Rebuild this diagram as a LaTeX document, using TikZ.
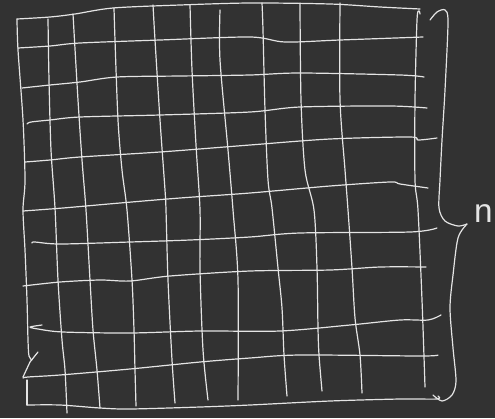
\documentclass[tikz,border=0pt]{standalone}
\usepackage{fontspec}
\setmainfont{Liberation Sans}
\usepackage{xcolor}
\usepackage{tikz}
\usetikzlibrary{positioning}
\definecolor{boardbg}{HTML}{323232}
\definecolor{chalk}{HTML}{E4E4E4}

\begin{document}
\begin{tikzpicture}[
    x=0.75pt, y=-0.75pt,
    stroke/.style={draw=chalk, line width=0.9pt, line cap=round, line join=round},
    row/.style={stroke},
    col/.style={stroke},
    brace/.style={stroke},
    label/.style={text=chalk, inner sep=0pt, font=\fontsize{25}{25}\selectfont},
]

% ============== board ==============
\fill[boardbg] (0,0) rectangle (495,418);
\useasboundingbox (0,0) rectangle (495,418);

% ============== rows ==============
\draw[row] plot[smooth, tension=0.5] coordinates {(17,19) (50,17) (75,14) (113,8) (180,5) (250,3) (330,4) (380,7) (420,9)};
\draw[row] plot[smooth, tension=0.5] coordinates {(18,48) (50,46) (80,43) (160,40) (250,37) (285,42) (340,40) (423,37)};
\draw[row] plot[smooth, tension=0.5] coordinates {(22,88) (50,85) (80,82) (117,77) (180,76) (250,75) (300,73) (400,75) (424,77)};
\draw[row] plot[smooth, tension=0.5] coordinates {(27,124) (31,122) (50,120) (80,117) (160,115) (250,112) (300,107) (390,106) (427,108)};
\draw[row] plot[smooth, tension=0.5] coordinates {(25,162) (50,160) (80,157) (160,152) (250,145) (330,139) (410,137) (418,140) (437,138)};
\draw[row] plot[smooth, tension=0.5] coordinates {(23,211) (63,208) (120,203) (180,198) (250,193) (330,186) (390,182) (400,184) (428,188)};
\draw[row] plot[smooth, tension=0.5] coordinates {(32,243) (35,242) (60,244) (130,242) (190,240) (250,237) (300,233) (410,232) (437,228)};
\draw[row] plot[smooth, tension=0.5] coordinates {(23,286) (60,282) (100,280) (130,281) (170,276) (250,271) (330,270) (380,267) (426,267)};
\draw[row] plot[smooth, tension=0.5] coordinates {(42,325) (30,327) (38,329) (63,332) (130,333) (200,331) (280,331) (350,325) (400,320) (428,320) (441,315)};
\draw[row] plot[smooth, tension=0.5] coordinates {(23,378) (28,377) (60,375) (130,369) (200,362) (250,358) (300,355) (420,356) (438,355)};
\draw[row] plot[smooth, tension=0.5] coordinates {(27,405) (60,405) (100,408) (130,409) (200,407) (250,405) (330,401) (400,399) (437,399) (438,396)};

% ============== columns ==============
\draw[col] plot[smooth, tension=0.5] coordinates {(17,19) (18,50) (23,120) (25,180) (23,210) (25,250) (27,300) (28,340) (29,356) (32,360)};
\draw[col] (38,352) -- (30,362) -- (23,377);
\draw[col] (27,380) -- (27,405);
\draw[col] plot[smooth, tension=0.5] coordinates {(48,19) (49,80) (51,150) (55,208) (58,280) (62,340) (65,370) (67,413)};
\draw[col] plot[smooth, tension=0.5] coordinates {(73,14) (78,100) (82,160) (86,210) (90,280) (93,330) (97,370) (100,408)};
\draw[col] plot[smooth, tension=0.5] coordinates {(114,8) (115,40) (118,120) (122,170) (127,210) (132,280) (134,330) (135,370) (136,406)};
\draw[col] plot[smooth, tension=0.5] coordinates {(153,5) (155,40) (160,120) (165,190) (166,210) (168,280) (172,360) (175,403)};
\draw[col] plot[smooth, tension=0.5] coordinates {(190,5) (192,70) (196,145) (200,210) (200,270) (203,350) (208,400)};
\draw[col] plot[smooth, tension=0.5] coordinates {(220,10) (220,60) (228,150) (233,210) (238,280) (238,400)};
\draw[col] plot[smooth, tension=0.5] coordinates {(262,3) (263,30) (265,110) (268,180) (272,208) (278,268) (282,308) (284,355) (287,396)};
\draw[col] plot[smooth, tension=0.5] coordinates {(300,3) (301,100) (305,170) (314,210) (317,268) (318,328) (319,355) (322,391)};
\draw[col] plot[smooth, tension=0.5] coordinates {(340,3) (340,100) (345,170) (348,210) (352,268) (355,318) (360,355) (362,393)};
\draw[col] plot[smooth, tension=0.5] coordinates {(420,14) (419,11) (417,20) (415,100) (415,180) (418,210) (422,300) (425,387)};

% ============== brace and size ==============
\draw[brace] plot[smooth, tension=0.5] coordinates {(430,20) (437,12) (445,10) (448,22) (445,90) (442,140) (440,180) (439,208) (445,221) (458,226) (467,224)};
\draw[brace] plot[smooth, tension=0.5] coordinates {(467,224) (458,238) (453,275) (450,308) (453,348) (456,381) (452,395) (442,401) (433,395)};
\node[label, anchor=south east] (size) at (493,223) {n};

\end{tikzpicture}
\end{document}
